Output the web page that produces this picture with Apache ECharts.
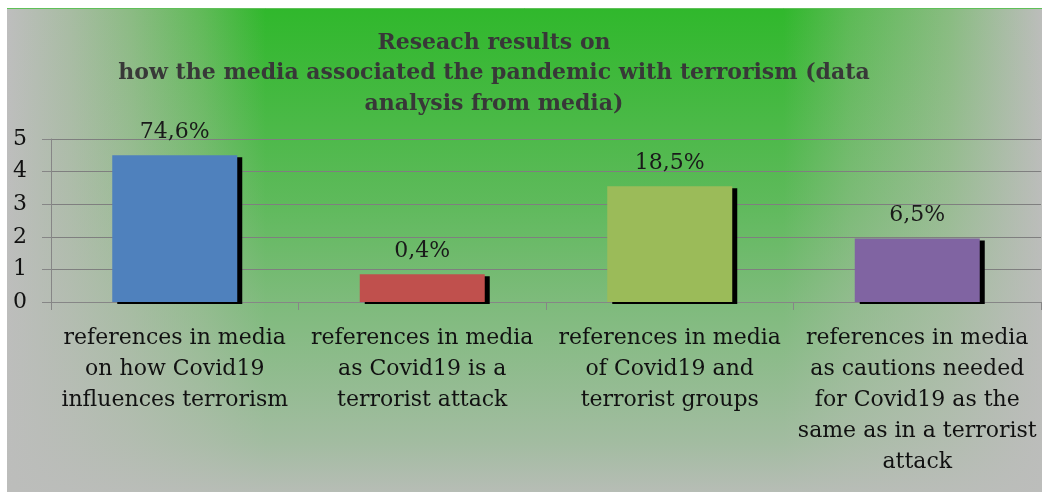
<!DOCTYPE html>
<html>
<head>
<meta charset="utf-8">
<script src="https://cdn.jsdelivr.net/npm/echarts@6/dist/echarts.min.js"></script>
<style>
  html, body { margin: 0; padding: 0; background: #ffffff; }
  #chart { width: 1042px; height: 492px; }
</style>
</head>
<body>
<div id="chart"></div>
<script>
const titleText = "Reseach results on\nhow the media associated the pandemic with terrorism (data\nanalysis from media)";

const categories = [
  "references in media\non how Covid19\ninfluences terrorism",
  "references in media\nas Covid19 is a\nterrorist attack",
  "references in media\nof Covid19 and\nterrorist groups",
  "references in media\nas cautions needed\nfor Covid19 as the\nsame as in a terrorist\nattack"
];
const values = [4.5, 0.85, 3.55, 1.95];
const valueLabels = ["74,6%", "0,4%", "18,5%", "6,5%"];
const barColors = ["#4f81bd", "#c0504d", "#9bbb59", "#8064a2"];
const yMin = 0;
const yMax = 5;
const yStep = 1;

const chart = echarts.init(document.getElementById("chart"), null, { renderer: "canvas" });

const serif = "'DejaVu Serif', 'Liberation Serif', serif";

chart.setOption({
  animation: false,
  backgroundColor: "#ffffff",
  title: {
    text: titleText,
    left: 489,
    top: 23,
    textAlign: "center",
    textStyle: {
      fontFamily: serif,
      fontWeight: "bold",
      fontSize: 22,
      lineHeight: 30.5,
      color: "#383838"
    }
  },
  graphic: [
    {
      type: "rect",
      z: -10,
      silent: true,
      shape: { x: 7, y: 8, width: 1035, height: 484 },
      style: {
        fill: {
          type: "linear", x: 0, y: 0, x2: 1, y2: 0,
          colorStops: [
            { offset: 0, color: "#bebebe" },
            { offset: 0.06, color: "#a8bca3" },
            { offset: 0.12, color: "#8bbb83" },
            { offset: 0.19, color: "#5fba57" },
            { offset: 0.25, color: "#30b82c" },
            { offset: 0.75, color: "#30b82c" },
            { offset: 0.815, color: "#5cba55" },
            { offset: 0.91, color: "#88bc80" },
            { offset: 1, color: "#bcbdbb" }
          ]
        }
      }
    },
    {
      type: "rect",
      z: -9,
      silent: true,
      shape: { x: 7, y: 8, width: 1035, height: 484 },
      style: {
        fill: {
          type: "linear", x: 0, y: 0, x2: 0, y2: 1,
          colorStops: [
            { offset: 0, color: "rgba(188,189,187,0)" },
            { offset: 0.19, color: "rgba(188,189,187,0.15)" },
            { offset: 0.4, color: "rgba(188,189,187,0.33)" },
            { offset: 0.6, color: "rgba(188,189,187,0.55)" },
            { offset: 0.9, color: "rgba(188,189,187,0.82)" },
            { offset: 1, color: "rgba(188,189,187,0.96)" }
          ]
        }
      }
    },
    {
      type: "line",
      z: -8,
      silent: true,
      shape: { x1: 7, y1: 8.5, x2: 1042, y2: 8.5 },
      style: { stroke: "#5fc058", lineWidth: 1 }
    }
  ],
  grid: { left: 51, right: 1, top: 139, bottom: 190, containLabel: false },
  xAxis: {
    type: "category",
    data: categories,
    axisLine: { show: true, lineStyle: { color: "#868686", width: 1 } },
    axisTick: { show: true, length: 8, alignWithLabel: false, lineStyle: { color: "#868686" } },
    axisLabel: {
      interval: 0,
      margin: 21,
      fontFamily: serif,
      fontSize: 22,
      lineHeight: 31,
      color: "#111111"
    }
  },
  yAxis: {
    type: "value",
    min: yMin,
    max: yMax,
    interval: yStep,
    axisLine: { show: true, lineStyle: { color: "#868686", width: 1 } },
    axisTick: { show: true, length: 9, lineStyle: { color: "#868686" } },
    splitLine: { show: true, lineStyle: { color: "#7f7f7f", width: 1 } },
    axisLabel: {
      margin: 24,
      fontFamily: serif,
      fontSize: 22,
      color: "#111111"
    }
  },
  series: [
    {
      type: "bar",
      barWidth: 125,
      data: values.map((v, i) => ({
        value: v,
        itemStyle: { color: barColors[i] },
        label: { formatter: valueLabels[i] }
      })),
      itemStyle: {
        shadowColor: "#000000",
        shadowOffsetX: 5,
        shadowOffsetY: 2,
        shadowBlur: 0
      },
      label: {
        show: true,
        position: "top",
        distance: 12,
        fontFamily: serif,
        fontSize: 22,
        color: "#1a1a1a"
      }
    }
  ]
});
</script>
</body>
</html>
